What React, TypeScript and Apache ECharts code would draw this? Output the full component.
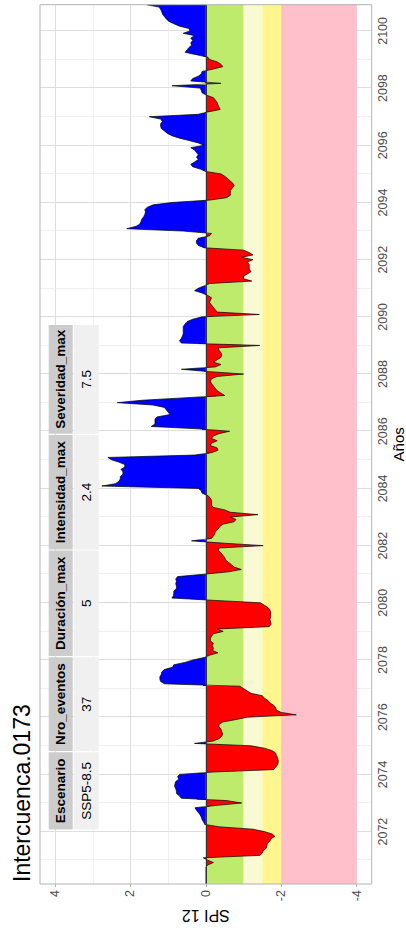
import React, { useEffect, useRef } from "react";
import * as echarts from "echarts";

// ---------- data ----------
const chartTitle = "Intercuenca.0173";
const xAxisTitle = "Años";
const yAxisTitle = "SPI 12";

// monthly SPI-12, series starts March 2070
const seriesStartYear = 2070;
const seriesStartMonth = 3;

// Mar 2070 - Dec 2080
const spi2070to2080 = [
  0, 0, 0, 0, 0, 0, 0, 0, -0.05, -0.2,
  -0.05, 0.07, -1.43, -1.5, -1.52, -1.6, -1.62, -1.63, -1.7, -1.73, -1.83, -1.76,
  -1.55, -1.25, -0.35, 0.03, 0.06, 0.1, 0.12, 0.15, 0.2, 0.25, 0.29, -0.3,
  -0.95, -0.55, 0.65, 0.7, 0.78, 0.78, 0.8, 0.83, 0.82, 0.8, 0.72, 0.75,
  0.7, -0.2, -1.8, -1.85, -1.9, -1.92, -1.92, -1.9, -1.87, -1.85, -1.75, -1.55,
  -1.2, 0.3, -0.2, -0.35, -0.42, -0.45, -0.42, -0.4, -0.35, -0.35, -0.45, -0.8,
  -1.1, -2.4, -2.0, -1.87, -1.85, -1.8, -1.7, -1.65, -1.55, -1.5, -1.2, -1.1,
  -1.0, -0.9, 1.1, 1.2, 1.22, 1.22, 1.18, 1.17, 1.1, 0.88, 0.85, 0.55,
  0.35, 0.05, -0.1, -0.32, -0.18, -0.2, -0.17, -0.2, -0.12, -0.12, -0.15, -0.2,
  -0.46, -0.3, -1.68, -1.73, -1.72, -1.7, -1.72, -1.72, -1.72, -1.7, -1.65, -1.55,
  -1.45, -0.25, 0.9, 0.86, 0.85, 0.85, 0.78, 0.78, 0.8, 0.78, 0.8, 0.75,
];

// Jan 2081 - Dec 2090
const spi2081to2090 = [
  0.05, -0.6, -0.94, -0.75, -0.68, -0.6, -0.52, -0.5, -0.45, -0.4, -0.33, -0.35,
  -1.52, -0.5, 0.38, -0.15, -0.2, -0.24, -0.25, -0.33, -0.37, -0.45, -0.75, -0.8,
  -0.65, -1.38, -0.65, -0.5, -0.2, -0.15, -0.15, -0.15, -0.12, -0.05, 0.1, 0.12,
  0.2, 2.76, 2.4, 2.3, 2.27, 2.27, 2.2, 2.2, 2.25, 2.15, 2.15, 2.3,
  2.5, 2.6, 0.3, -0.15, -0.32, -0.3, -0.12, -0.15, -0.3, -0.15, -0.2, -0.35,
  -0.63, 0.2, 1.45, 1.35, 1.35, 1.35, 1.3, 0.95, 1.0, 1.05, 1.1, 1.4,
  2.35, 1.7, 0.6, -0.5, -0.4, -0.3, -0.25, -0.2, -0.15, -0.12, -0.15, -0.3,
  -1.0, -0.1, 0.65, -0.25, -0.4, -0.2, -0.3, -0.4, -0.42, -0.4, -0.35, -0.33,
  -1.43, 0.65, 0.7, 0.65, 0.62, 0.6, 0.6, 0.6, 0.6, 0.55, 0.5, 0.35,
  0.1, -1.42, -0.3, -0.25, -0.2, -0.15, -0.1, -0.12, -0.15, -0.05, 0.1, 0.3,
];

// Jan 2091 - Dec 2100
const spi2091to2100 = [
  0.2, 0.05, -0.1, -1.22, -1.0, -1.0, -1.1, -1.2, -1.15, -1.15, -1.15, -1.1,
  -1.25, -0.95, -1.25, -1.15, -1.0, 0.05, 0.2, 0.25, 0.25, 0.2, -0.1, -0.15,
  0.6, 2.1, 1.85, 1.75, 1.72, 1.7, 1.65, 1.62, 1.6, 1.62, 1.55, 1.4,
  0.9, -0.1, -0.55, -0.65, -0.65, -0.65, -0.7, -0.75, -0.72, -0.65, -0.58, -0.5,
  -0.4, 0.0, 0.15, 0.35, 0.4, 0.3, 0.2, 0.25, 0.2, 0.25, 0.3, 0.4,
  0.05, 0.2, 0.45, 0.7, 0.9, 1.02, 1.1, 1.18, 1.2, 1.2, 1.15, 1.2,
  1.5, 0.2, -0.05, -0.38, -0.35, -0.32, -0.3, -0.25, -0.2, -0.02, 0.1, 0.12,
  0.15, 0.9, -0.4, 0.4, 0.35, 0.2, 0.12, 0.1, -0.2, -0.45, -0.4, -0.3,
  -0.1, -0.05, 0.25, 0.55, 0.5, 0.45, 0.38, 0.4, 0.35, 0.4, 0.3, 0.6,
  0.42, 0.45, 0.7, 0.85, 0.98, 1.05, 1.1, 1.15, 1.17, 1.2, 1.24, 1.57,
];

const yearTicks = [2072, 2074, 2076, 2078, 2080, 2082, 2084, 2086, 2088, 2090, 2092, 2094, 2096, 2098, 2100];
const yearMinorTicks = [2071, 2073, 2075, 2077, 2079, 2081, 2083, 2085, 2087, 2089, 2091, 2093, 2095, 2097, 2099];
const spiTicks = [-4, -2, 0, 2, 4];
const spiMinorTicks = [-3, -1, 1, 3];

// drought category limits (SPI) for the background bands
const bandLimits = [0, -1, -1.5, -2, -4];

const tableHeader = ["Escenario", "Nro_eventos", "Duración_max", "Intensidad_max", "Severidad_max"];
const tableValues = ["SSP5-8.5", "37", "5", "2.4", "7.5"];

// ---------- layout / style ----------
const W = 930;
const H = 406;
const GRID = { left: 46, right: 4.7, top: 40, bottom: 34.3 };
const SPI_MIN = -4.4;
const SPI_MAX = 4.4;
const FONT = "'Liberation Sans', Arial, Helvetica, sans-serif";
const bandColors = ["#bfeb6d", "#f9f9d3", "#fff68f", "#ffc0cb"];
const tableColEdges = [100, 178.3, 273.3, 380, 495.7, 605.7];
const tableTop = 48.7;
const headerH = 24;
const valueH = 25;

export default function App() {
  const ref = useRef<HTMLDivElement>(null);

  useEffect(() => {
    if (!ref.current) return;
    const chart = echarts.init(ref.current, null, { renderer: "svg" });

    const values = [...spi2070to2080, ...spi2081to2090, ...spi2091to2100];
    const points = values.map((v, i) => [
      seriesStartYear + (seriesStartMonth - 1 + i) / 12,
      v,
    ]);
    const xMin = points[0][0] as number;
    const xMax = points[points.length - 1][0] as number;

    const bandData = bandColors.map((c, i) => [
      { xAxis: xMin, yAxis: bandLimits[i], itemStyle: { color: c } },
      { xAxis: xMax, yAxis: bandLimits[i + 1] },
    ]);

    const plotW = W - GRID.left - GRID.right;
    const plotH = H - GRID.top - GRID.bottom;

    const tableGraphics: any[] = [];
    tableHeader.forEach((h, i) => {
      const x0 = tableColEdges[i];
      const x1 = tableColEdges[i + 1];
      tableGraphics.push({
        type: "rect",
        shape: { x: x0 + 0.6, y: tableTop, width: x1 - x0 - 1.2, height: headerH },
        style: { fill: "#cccccc" },
        z: 50,
        silent: true,
      });
      tableGraphics.push({
        type: "rect",
        shape: { x: x0 + 0.6, y: tableTop + headerH + 1, width: x1 - x0 - 1.2, height: valueH },
        style: { fill: "#f0f0f0" },
        z: 50,
        silent: true,
      });
      tableGraphics.push({
        type: "text",
        z: 51,
        silent: true,
        style: {
          text: h,
          x: (x0 + x1) / 2,
          y: tableTop + headerH / 2,
          fill: "#000",
          fontSize: 13.5,
          fontWeight: "bold",
          fontFamily: FONT,
          align: "center",
          verticalAlign: "middle",
        },
      });
      tableGraphics.push({
        type: "text",
        z: 51,
        silent: true,
        style: {
          text: tableValues[i],
          x: (x0 + x1) / 2,
          y: tableTop + headerH + 1 + valueH / 2,
          fill: "#000",
          fontSize: 13.5,
          fontFamily: FONT,
          align: "center",
          verticalAlign: "middle",
        },
      });
    });

    const axisLabelStyle = { color: "#4d4d4d", fontSize: 12.5, fontFamily: FONT };

    chart.setOption({
      animation: false,
      backgroundColor: "#ffffff",
      textStyle: { fontFamily: FONT },
      grid: {
        left: GRID.left,
        right: GRID.right,
        top: GRID.top,
        bottom: GRID.bottom,
        containLabel: false,
        outerBoundsMode: "none",
      },
      visualMap: {
        show: false,
        type: "piecewise",
        seriesIndex: 0,
        dimension: 1,
        pieces: [
          { gte: -10, lt: 0, color: "#ff0000" },
          { gte: 0, lte: 10, color: "#0000ff" },
        ],
        outOfRange: { color: "#0000ff" },
      },
      xAxis: [
        {
          type: "value",
          min: xMin,
          max: xMax,
          position: "bottom",
          name: xAxisTitle,
          nameLocation: "middle",
          nameGap: 19,
          nameMoveOverlap: false,
          nameTextStyle: { color: "#000", fontSize: 15, fontFamily: FONT },
          axisLine: { show: false },
          axisTick: { show: true, length: 3, customValues: yearTicks, lineStyle: { color: "#b3b3b3", width: 1 } },
          axisLabel: { ...axisLabelStyle, margin: 5, customValues: yearTicks, formatter: (v: number) => String(v) },
          splitLine: { show: true, lineStyle: { color: "#dedede", width: 1 } },
        },
        {
          type: "value",
          min: xMin,
          max: xMax,
          position: "bottom",
          axisLine: { show: false },
          axisTick: { show: false, customValues: yearMinorTicks },
          axisLabel: { show: false, customValues: yearMinorTicks },
          splitLine: { show: true, lineStyle: { color: "#e6e6e6", width: 0.6 } },
        },
      ],
      yAxis: [
        {
          type: "value",
          min: SPI_MIN,
          max: SPI_MAX,
          name: yAxisTitle,
          nameLocation: "middle",
          nameRotate: 90,
          nameGap: 23,
          nameMoveOverlap: false,
          nameTextStyle: { color: "#000", fontSize: 16, fontFamily: FONT },
          axisLine: { show: false },
          axisTick: { show: true, length: 3, customValues: spiTicks, lineStyle: { color: "#b3b3b3", width: 1 } },
          axisLabel: { ...axisLabelStyle, margin: 6, customValues: spiTicks, formatter: (v: number) => String(v) },
          splitLine: { show: true, lineStyle: { color: "#dedede", width: 1 } },
        },
        {
          type: "value",
          min: SPI_MIN,
          max: SPI_MAX,
          axisLine: { show: false },
          axisTick: { show: false, customValues: spiMinorTicks },
          axisLabel: { show: false, customValues: spiMinorTicks },
          splitLine: { show: true, lineStyle: { color: "#e6e6e6", width: 0.6 } },
        },
      ],
      series: [
        {
          name: "fill",
          type: "line",
          data: points,
          xAxisIndex: 0,
          yAxisIndex: 0,
          symbol: "none",
          showSymbol: false,
          silent: true,
          z: 2,
          lineStyle: { width: 0, opacity: 0 },
          areaStyle: { opacity: 1 },
          markArea: {
            silent: true,
            label: { show: false },
            data: bandData,
          },
        },
        {
          name: "line",
          type: "line",
          data: points,
          xAxisIndex: 0,
          yAxisIndex: 0,
          symbol: "none",
          showSymbol: false,
          silent: true,
          z: 3,
          lineStyle: { color: "#000000", width: 0.7 },
          markLine: {
            silent: true,
            symbol: ["none", "none"],
            label: { show: false },
            lineStyle: { color: "#333333", width: 1, type: "solid" },
            data: [{ yAxis: 0 }],
          },
        },
      ],
      graphic: [
        {
          type: "text",
          silent: true,
          z: 60,
          style: {
            text: chartTitle,
            x: 48,
            y: 21.5,
            fill: "#000",
            fontSize: 23,
            fontFamily: FONT,
            align: "left",
            verticalAlign: "middle",
          },
        },
        {
          type: "rect",
          silent: true,
          z: 40,
          shape: { x: GRID.left, y: GRID.top, width: plotW, height: plotH },
          style: { fill: "none", stroke: "#b3b3b3", lineWidth: 1 },
        },
        ...tableGraphics,
      ],
    });

    return () => chart.dispose();
  }, []);

  return (
    <div
      style={{
        position: "fixed",
        left: 0,
        top: 0,
        width: H,
        height: W,
        overflow: "hidden",
        background: "#ffffff",
      }}
    >
      <div
        ref={ref}
        style={{
          position: "absolute",
          left: 0,
          top: 0,
          width: W,
          height: H,
          transformOrigin: "0 0",
          transform: `rotate(-90deg) translateX(-${W}px)`,
        }}
      />
    </div>
  );
}
